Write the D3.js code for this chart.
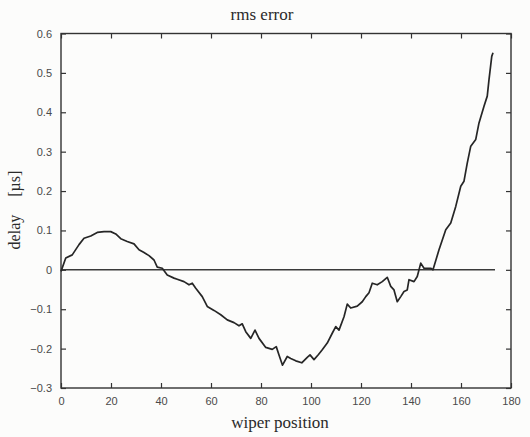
<!DOCTYPE html>
<html>
<head>
<meta charset="utf-8">
<script src="https://cdn.jsdelivr.net/npm/d3@7"></script>
<style>
  html, body { margin: 0; padding: 0; background: #fcfcfb; }
  svg { display: block; }
  .tick text { font-family: "Liberation Sans", Arial, sans-serif; font-size: 11px; fill: #4a4a4a; }
  .tick line { stroke: #333; stroke-width: 1.2; }
  .label { font-family: "Liberation Serif", "Times New Roman", serif; fill: #2a2a2a; }
</style>
</head>
<body>
<div id="chart"></div>
<script>
// -------------------------------------------------------------------------
// Data

const wiperPos = [
  0, 1.9, 4.5, 7.2, 9.2, 11.9, 14.5, 17.2, 19.9, 21.9, 23.9, 26.5, 29.2, 31.2,
  33.2, 35.2, 37.2, 38.5, 40.5, 42.5, 45.2, 46.5, 49.2, 51.2, 52.5, 53.9, 56.5,
  58.5, 61.2, 63.9, 66.5, 69.2, 71.2, 72.5, 73.9, 75.9, 77.6, 79.2, 81.9, 84.5,
  86.1, 87.2, 88.6, 90.5, 91.9, 93.9, 96.3, 98.5, 99.6, 101.2, 103, 104.5,
  106.5, 108.5, 109.9, 111.2, 113.2, 114.5, 115.9, 118.5, 120.5, 121.9, 123.2,
  124.5, 126.5, 128.5, 130.5, 131.9, 133.2, 134.5, 135.9, 137.2, 138.5, 139.2,
  141.2, 142.5, 143.9, 145.2, 146.5, 147.9, 148.8, 151.2, 153.9, 155.9, 157.9,
  159.9, 161.2, 162.5, 163.9, 165.9, 167.2, 169.2, 170.5, 171.2, 172.3, 172.8
];

const delay = [
  -0.004, 0.03, 0.038, 0.064, 0.08, 0.086, 0.095, 0.097, 0.097, 0.091, 0.079,
  0.072, 0.066, 0.051, 0.044, 0.036, 0.025, 0.007, 0.004, -0.013, -0.021,
  -0.024, -0.03, -0.038, -0.034, -0.047, -0.068, -0.093, -0.103, -0.114,
  -0.127, -0.134, -0.142, -0.137, -0.157, -0.174, -0.153, -0.174, -0.197,
  -0.202, -0.195, -0.216, -0.242, -0.22, -0.225, -0.231, -0.236, -0.222,
  -0.216, -0.228, -0.215, -0.203, -0.186, -0.161, -0.144, -0.153, -0.119,
  -0.087, -0.097, -0.092, -0.081, -0.068, -0.058, -0.034, -0.038, -0.03,
  -0.019, -0.042, -0.051, -0.081, -0.068, -0.055, -0.051, -0.025, -0.03,
  -0.017, 0.017, 0.004, 0.004, 0.004, 0.0, 0.051, 0.102, 0.119, 0.161, 0.212,
  0.225, 0.271, 0.314, 0.331, 0.373, 0.415, 0.441, 0.483, 0.542, 0.551
];

// the horizontal reference line at zero delay
const zeroLineX = [0, 173.6];

const xTicks = [0, 20, 40, 60, 80, 100, 120, 140, 160, 180];
const yTicks = [-0.3, -0.2, -0.1, 0, 0.1, 0.2, 0.3, 0.4, 0.5, 0.6];

const titleText = 'rms error';
const xLabelText = 'wiper position';

// -------------------------------------------------------------------------
// Layout

const width = 530;
const height = 437;
const margin = { top: 33.5, right: 19, bottom: 49, left: 61 };
const innerW = width - margin.left - margin.right;
const innerH = height - margin.top - margin.bottom;

const svg = d3.select('#chart')
  .append('svg')
  .attr('width', width)
  .attr('height', height);

const g = svg.append('g')
  .attr('transform', `translate(${margin.left},${margin.top})`);

const x = d3.scaleLinear().domain([0, 180]).range([0, innerW]);
const y = d3.scaleLinear().domain([-0.3, 0.6]).range([innerH, 0]);

const fmt = d => (d === 0 ? '0' : d3.format('.1f')(d));

// -------------------------------------------------------------------------
// Axes: MATLAB style, ticks pointing inward on all four sides

function styleAxis(sel) {
  sel.select('.domain').remove();
}

g.append('g')
  .attr('transform', `translate(0,${innerH})`)
  .call(d3.axisBottom(x).tickValues(xTicks).tickFormat(d3.format('d'))
    .tickSizeInner(-5).tickSizeOuter(0).tickPadding(9))
  .call(styleAxis);

g.append('g')
  .call(d3.axisTop(x).tickValues(xTicks).tickFormat('')
    .tickSizeInner(-5).tickSizeOuter(0))
  .call(styleAxis);

g.append('g')
  .call(d3.axisLeft(y).tickValues(yTicks).tickFormat(fmt)
    .tickSizeInner(-5).tickSizeOuter(0).tickPadding(9))
  .call(styleAxis);

g.append('g')
  .attr('transform', `translate(${innerW},0)`)
  .call(d3.axisRight(y).tickValues(yTicks).tickFormat('')
    .tickSizeInner(-5).tickSizeOuter(0))
  .call(styleAxis);

// frame
g.append('rect')
  .attr('width', innerW)
  .attr('height', innerH)
  .attr('fill', 'none')
  .attr('stroke', '#333')
  .attr('stroke-width', 1.4);

// -------------------------------------------------------------------------
// Marks

g.append('line')
  .attr('x1', x(zeroLineX[0]))
  .attr('x2', x(zeroLineX[1]))
  .attr('y1', y(0))
  .attr('y2', y(0))
  .attr('stroke', '#3a3a3a')
  .attr('stroke-width', 1.5);

const points = wiperPos.map((p, i) => [p, delay[i]]);

g.append('path')
  .datum(points)
  .attr('fill', 'none')
  .attr('stroke', '#262626')
  .attr('stroke-width', 1.7)
  .attr('stroke-linejoin', 'round')
  .attr('d', d3.line().x(d => x(d[0])).y(d => y(d[1])));

// -------------------------------------------------------------------------
// Text

svg.append('text')
  .attr('class', 'label')
  .attr('x', 262)
  .attr('y', 20)
  .attr('text-anchor', 'middle')
  .style('font-size', '17px')
  .text(titleText);

svg.append('text')
  .attr('class', 'label')
  .attr('x', 280)
  .attr('y', 428)
  .attr('text-anchor', 'middle')
  .style('font-size', '17px')
  .text(xLabelText);

// y label: "delay" and "[µs]" with a wide gap, as in the scan
const yLabel = svg.append('text')
  .attr('class', 'label')
  .attr('transform', 'translate(20,210) rotate(-90)')
  .attr('text-anchor', 'middle')
  .style('font-size', '16px');
yLabel.append('tspan').text('delay');
yLabel.append('tspan').attr('dx', 18).text('[µs]');
</script>
</body>
</html>
